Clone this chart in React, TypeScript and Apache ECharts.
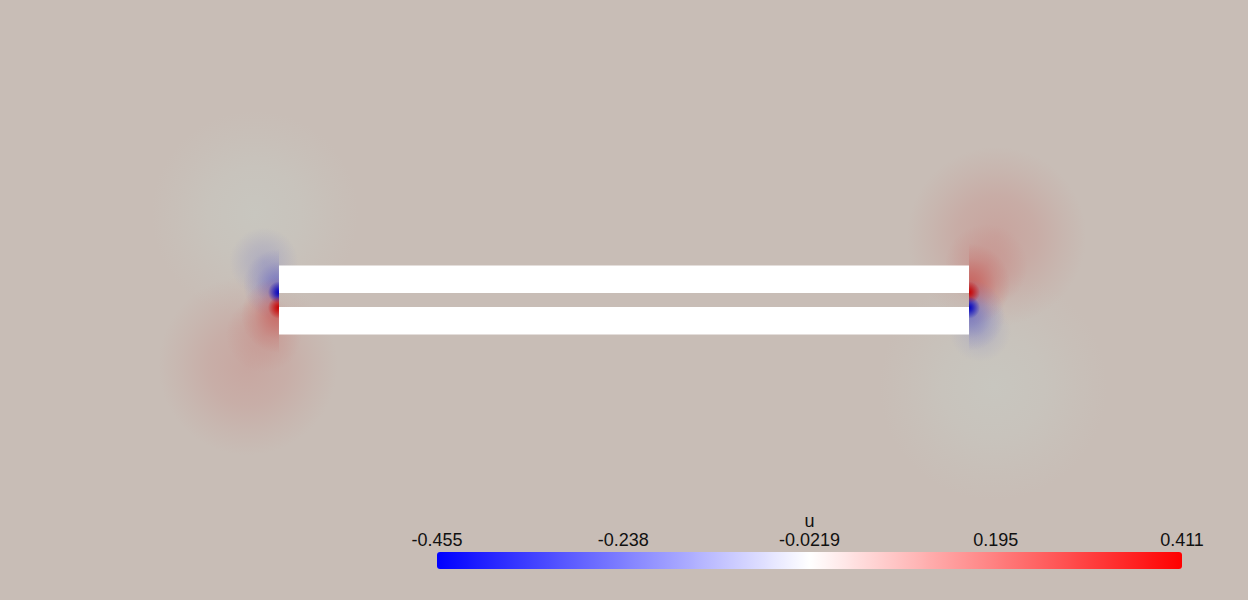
import React, { useEffect, useRef } from "react";
import * as echarts from "echarts";

// ---- data (domain units: plate length = 1) ----
const X_EXTENT = [-0.4043, 1.4043];
const Y_EXTENT = [-0.4348, 0.4348];
const U_MIN = -0.455;
const U_MAX = 0.411;
const colorbarTicks = ["-0.455", "-0.238", "-0.0219", "0.195", "0.411"];
const fieldName = "u";

// plates: [x0, y0, x1, y1]
const plates = [
  [0, 0.01, 1.0, 0.05],
  [0, -0.05, 1.0, -0.01],
];

// field features: [x, y, radius, u, side]  side: -1 left half, 1 right half, 0 full
const haloFeatures = [
  [-0.035, 0.125, 0.15, -0.022, 0],
  [-0.045, -0.095, 0.13, 0.055, 0],
  [1.035, -0.125, 0.165, -0.022, 0],
  [1.04, 0.092, 0.13, 0.06, 0],
];
const bodyFeatures = [
  [-0.022, 0.055, 0.05, -0.1, 0],
  [-0.022, -0.05, 0.055, 0.09, 0],
  [1.025, 0.05, 0.06, 0.1, 0],
  [1.016, -0.045, 0.045, -0.08, 0],
];
const lobeFeatures = [
  [0, 0.022, 0.052, -0.2, -1],
  [0, -0.022, 0.055, 0.18, -1],
  [1.0, 0.022, 0.06, 0.2, 1],
  [1.0, -0.022, 0.052, -0.19, 1],
];
const tipFeatures = [
  [0, 0.011, 0.016, -0.455, -1],
  [0, -0.011, 0.016, 0.411, -1],
  [1.0, 0.011, 0.016, 0.411, 1],
  [1.0, -0.011, 0.016, -0.455, 1],
];

// ---- colour helpers ----
const TINT = [0.784, 0.781, 0.752];
function colormap(u: number): number[] {
  const t = Math.max(0, Math.min(1, (u - U_MIN) / (U_MAX - U_MIN)));
  if (t < 0.5) {
    const f = t / 0.5;
    return [255 * f, 255 * f, 255];
  }
  const f = (t - 0.5) / 0.5;
  return [255, 255 * (1 - f), 255 * (1 - f)];
}
function shaded(u: number): number[] {
  const c = colormap(u);
  return c.map((v, i) => Math.round(v * TINT[i]));
}
function rgba(c: number[], a: number) {
  return `rgba(${c[0]},${c[1]},${c[2]},${a})`;
}
const BG = shaded(0);

const PROFILES: Record<string, number[][]> = {
  halo: [[0, 0.9], [0.45, 0.6], [0.75, 0.25], [1, 0]],
  body: [[0, 0.7], [0.5, 0.4], [1, 0]],
  lobe: [[0, 1], [0.3, 0.7], [0.65, 0.25], [1, 0]],
  tip: [[0, 1], [0.35, 0.7], [1, 0]],
};

function makeRender(profile: string) {
  return (params: any, api: any) => {
    const c = api.coord([api.value(0), api.value(1)]);
    const r = api.size([api.value(2), 0])[0];
    const u = api.value(3);
    const side = api.value(4);
    const col = shaded(u);
    const fill = {
      type: "radial",
      x: c[0],
      y: c[1],
      r,
      global: true,
      colorStops: PROFILES[profile].map(([o, a]) => ({ offset: o, color: rgba(col, a) })),
    };
    if (side === 0) {
      return { type: "circle", shape: { cx: c[0], cy: c[1], r }, style: { fill } };
    }
    const start = side < 0 ? Math.PI / 2 : -Math.PI / 2;
    return {
      type: "sector",
      shape: { cx: c[0], cy: c[1], r0: 0, r, startAngle: start, endAngle: start + Math.PI, clockwise: true },
      style: { fill },
    };
  };
}

export default function App() {
  const ref = useRef<HTMLDivElement>(null);
  useEffect(() => {
    if (!ref.current) return;
    const chart = echarts.init(ref.current, null, { renderer: "svg" });
    const font = "Liberation Sans";
    const layer = (data: number[][], profile: string) => ({
      type: "custom",
      xAxisIndex: 0,
      yAxisIndex: 0,
      data,
      renderItem: makeRender(profile),
      silent: true,
    });
    chart.setOption({
      animation: false,
      backgroundColor: rgba(BG, 1),
      grid: [
        { left: 0, right: 0, top: 0, bottom: 0 },
        { left: 437, width: 745, top: 552, height: 17 },
      ],
      xAxis: [
        { type: "value", gridIndex: 0, min: X_EXTENT[0], max: X_EXTENT[1], show: false },
        {
          type: "category",
          gridIndex: 1,
          data: colorbarTicks,
          boundaryGap: false,
          position: "top",
          axisLine: { show: false },
          axisTick: { show: false },
          splitLine: { show: false },
          axisLabel: { interval: 0, fontSize: 18, fontFamily: font, color: "#111", margin: 3 },
          name: fieldName,
          nameLocation: "middle",
          nameGap: 22,
          nameMoveOverlap: false,
          nameTextStyle: { fontSize: 18, fontFamily: font, color: "#111" },
        },
      ],
      yAxis: [
        { type: "value", gridIndex: 0, min: Y_EXTENT[0], max: Y_EXTENT[1], show: false },
        { type: "value", gridIndex: 1, show: false },
      ],
      visualMap: {
        type: "continuous",
        min: U_MIN,
        max: U_MAX,
        orient: "horizontal",
        left: 437,
        top: 552,
        itemWidth: 17,
        itemHeight: 745,
        padding: 0,
        calculable: false,
        seriesIndex: [],
        inRange: { color: ["#0000ff", "#ffffff", "#ff0000"] },
        textStyle: { color: "transparent" },
        text: null,
      },
      series: [
        layer(haloFeatures, "halo"),
        layer(bodyFeatures, "body"),
        layer(lobeFeatures, "lobe"),
        layer(tipFeatures, "tip"),
        {
          type: "custom",
          xAxisIndex: 0,
          yAxisIndex: 0,
          data: plates,
          silent: true,
          renderItem: (params: any, api: any) => {
            const p0 = api.coord([api.value(0), api.value(3)]);
            const p1 = api.coord([api.value(2), api.value(1)]);
            return {
              type: "rect",
              shape: { x: p0[0], y: p0[1], width: p1[0] - p0[0], height: p1[1] - p0[1] },
              style: { fill: "#ffffff" },
            };
          },
        },
      ],
    });
    return () => chart.dispose();
  }, []);
  return <div ref={ref} style={{ position: "fixed", left: 0, top: 0, width: 1248, height: 600 }} />;
}
